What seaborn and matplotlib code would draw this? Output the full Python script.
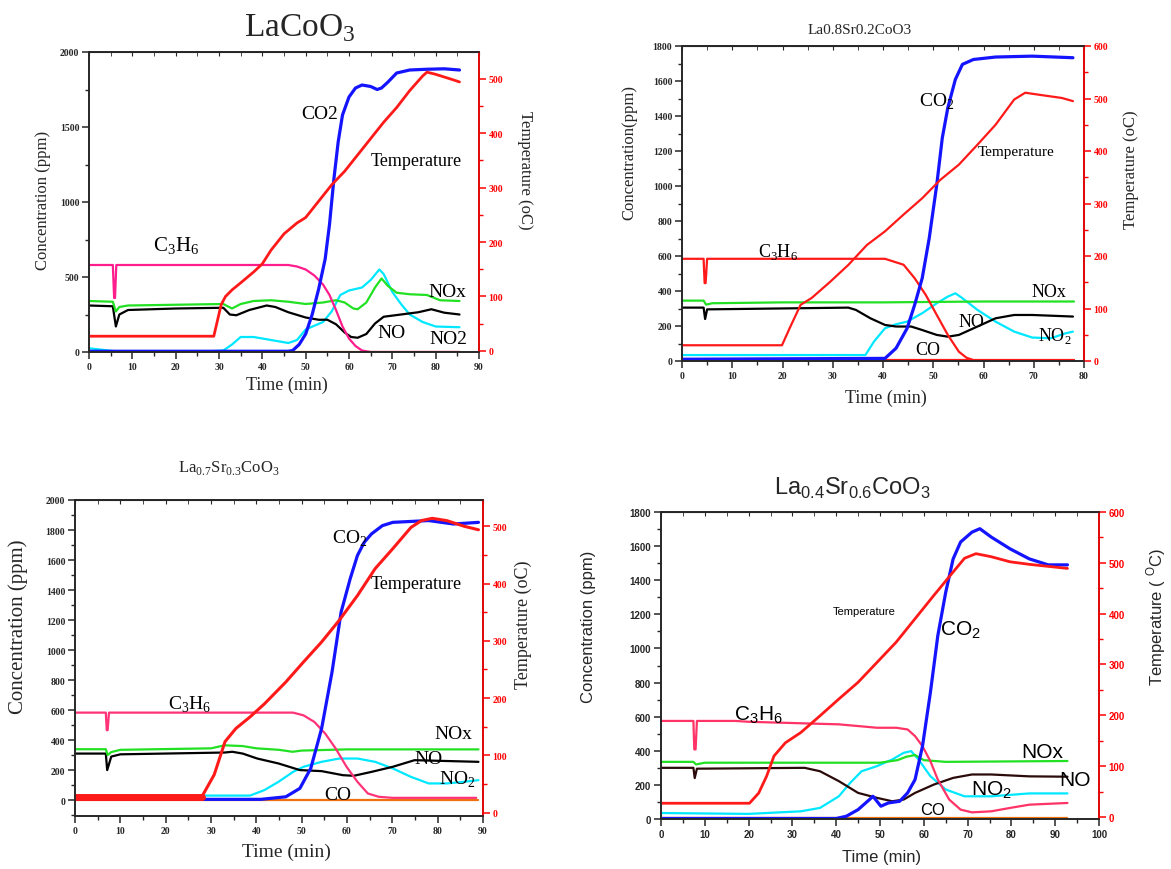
import matplotlib
matplotlib.use("Agg")
import matplotlib.pyplot as plt
from matplotlib.ticker import MultipleLocator
import seaborn as sns

# ---- LaCoO3 (top left) ----
p1_c3h6_t = [0, 5.5, 5.8, 6.0, 6.3, 46, 48, 50, 52, 54, 55.5, 57, 58.5, 60, 61.5, 63, 65, 85.5]
p1_c3h6 = [580, 580, 360, 360, 580, 580, 570, 550, 510, 450, 380, 280, 170, 90, 40, 10, 0, 0]
p1_temp_t = [0, 28.8, 30.5, 31.5, 33, 35, 38, 40, 42, 45, 48, 50, 53, 56, 59, 62, 65, 68, 71, 74, 77, 78, 80, 82, 84, 85.5]
p1_temp = [27, 27, 85, 100, 112, 125, 145, 160, 185, 215, 235, 245, 275, 305, 330, 360, 390, 420, 447, 478, 505, 512, 508, 503, 498, 494]
p1_co2_t = [0, 46, 47, 48.5, 50, 51.5, 53, 54.5, 55.5, 56.5, 57.5, 58.5, 60, 61.5, 63, 65, 66.5, 67.5, 69, 71, 74, 78, 82, 85.5]
p1_co2 = [5, 5, 10, 50, 120, 250, 420, 620, 850, 1150, 1400, 1580, 1700, 1760, 1780, 1770, 1750, 1760, 1800, 1860, 1880, 1885, 1888, 1880]
p1_nox_t = [0, 5.5, 6.2, 7, 9, 20, 31, 33, 35, 38, 42, 46, 50, 54, 57, 59, 61, 62, 64, 66, 67.5, 69, 71, 74, 78, 81, 85.5]
p1_nox = [340, 335, 270, 300, 310, 315, 320, 290, 320, 340, 345, 335, 320, 330, 345, 330, 290, 285, 330, 430, 490, 440, 395, 385, 380, 345, 340]
p1_no_t = [0, 5.5, 6.2, 7, 9, 20, 31, 32.5, 34, 37, 41, 43, 46, 50, 53, 55, 57, 59, 60.5, 62, 64, 66, 68, 72, 76, 79, 82, 85.5]
p1_no = [310, 305, 170, 250, 280, 290, 295, 250, 245, 280, 310, 300, 265, 230, 215, 215, 185, 130, 100, 95, 120, 190, 235, 250, 265, 285, 262, 250]
p1_no2_t = [0, 3, 6, 28, 31, 33, 35, 38, 42, 46, 48, 50, 52, 54, 56, 58, 60, 63, 65, 67, 68, 70, 72, 74, 77, 80, 85.5]
p1_no2 = [25, 15, 5, 5, 10, 50, 100, 100, 80, 60, 80, 150, 175, 200, 270, 380, 410, 430, 480, 550, 520, 400, 320, 250, 200, 170, 165]
p1_co_t = [0, 85.5]
p1_co = [3, 3]

# ---- La0.8Sr0.2CoO3 (top right) ----
p2_c3h6_t = [0, 4.3, 4.5, 4.7, 5.0, 40.4, 44.1, 46.3, 48.5, 50.7, 52.9, 55.1, 56.6, 58, 78]
p2_c3h6 = [584, 584, 445, 445, 584, 584, 550, 473, 378, 263, 149, 53, 19, 5, 5]
p2_temp_t = [0, 19.9, 21.4, 23.6, 25.8, 29.5, 33.1, 36.8, 40.4, 44.1, 47.8, 51.4, 55.1, 58.8, 62.4, 66.1, 68.3, 71.9, 75.6, 77.8]
p2_temp = [30, 30, 62, 107, 120, 151, 183, 221, 247, 279, 310, 345, 374, 412, 450, 498, 511, 506, 501, 495]
p2_co2_t = [0, 40.4, 42.6, 44.8, 46.3, 47.8, 49.2, 50.7, 51.8, 52.9, 54.4, 55.8, 58, 62.4, 69.7, 77.8]
p2_co2 = [10, 15, 73, 187, 321, 473, 702, 1008, 1275, 1447, 1609, 1695, 1723, 1737, 1742, 1733]
p2_nox_t = [0, 4.3, 4.8, 6, 20, 40, 60, 78]
p2_nox = [345, 345, 322, 330, 335, 335, 340, 340]
p2_no_t = [0, 4.3, 4.6, 5.0, 33.1, 34.6, 37.5, 40.4, 42.6, 45.6, 47.8, 50.7, 52.9, 55.1, 58.8, 62.4, 66.1, 69.7, 77.8]
p2_no = [305, 305, 240, 295, 305, 292, 244, 206, 197, 197, 177, 149, 139, 149, 197, 244, 263, 263, 254]
p2_no2_t = [0, 36.5, 38.2, 40.4, 42.6, 44.8, 47.8, 50.7, 52.9, 54.4, 55.8, 58.8, 62.4, 66.1, 69.7, 73.4, 76.3, 77.8]
p2_no2 = [34, 34, 111, 187, 210, 225, 273, 330, 368, 387, 359, 292, 225, 168, 134, 130, 158, 168]
p2_co_t = [0, 78]
p2_co = [4, 4]

# ---- La0.7Sr0.3CoO3 (bottom left) ----
p3_c3h6_t = [0, 6.8, 7.0, 7.2, 7.5, 48.1, 50.4, 52.8, 55.2, 57.5, 59.9, 62.3, 64.6, 67, 70, 88.5]
p3_c3h6 = [583, 583, 466, 466, 583, 583, 565, 521, 443, 344, 222, 122, 44, 22, 15, 15]
p3_temp_t = [0, 28, 30.7, 33.1, 35.5, 38.6, 41.8, 46.5, 50.4, 54.4, 58.3, 62.3, 66.2, 70.1, 74.1, 76.4, 78.8, 82, 85.9, 89]
p3_temp = [28, 28, 66, 124, 147, 167, 190, 228, 263, 298, 336, 379, 426, 461, 498, 510, 514, 510, 500, 494]
p3_co2_t = [0, 41, 46.5, 49.6, 52, 54.4, 56.7, 58.7, 60.7, 62.3, 63.8, 65.4, 67.8, 70.1, 78, 83.5, 89]
p3_co2 = [5, 5, 22, 78, 211, 477, 854, 1253, 1475, 1630, 1718, 1774, 1829, 1851, 1863, 1840, 1851]
p3_nox_t = [0, 6.8, 7.2, 8, 10, 30, 33, 37, 40, 45, 48, 50, 60, 89]
p3_nox = [339, 339, 300, 320, 335, 345, 365, 360, 345, 335, 322, 330, 338, 338]
p3_no_t = [0, 6.8, 7.1, 8, 10, 33, 34.7, 37, 40.2, 44.9, 49.6, 54.4, 59.1, 61.5, 65.4, 70.1, 74.9, 89]
p3_no = [310, 310, 200, 290, 305, 317, 322, 310, 277, 244, 200, 193, 166, 162, 188, 222, 266, 255]
p3_no2_t = [0, 27.6, 38.6, 41.8, 44.9, 48.1, 50.4, 54.4, 58.3, 62.3, 66.2, 70.1, 74.1, 78, 82, 85.9, 89]
p3_no2 = [30, 30, 30, 67, 122, 188, 222, 255, 277, 277, 255, 211, 155, 111, 111, 122, 133]
p3_co_t = [0, 89]
p3_co = [3, 3]

# ---- La0.4Sr0.6CoO3 (bottom right) ----
p4_c3h6_t = [0, 7.4, 7.6, 7.9, 8.2, 17, 20, 40.6, 45, 49.3, 53.7, 56.3, 58, 59.7, 61.5, 63.2, 65.8, 68.4, 71, 75.4, 79.7, 84.1, 92.8]
p4_c3h6 = [575, 575, 408, 408, 575, 575, 570, 555, 545, 535, 535, 525, 486, 427, 339, 231, 114, 55, 39, 45, 65, 84, 94]
p4_temp_t = [0, 20.2, 22.3, 24.1, 25.8, 28.4, 31.9, 36.3, 40.6, 45, 49.3, 53.7, 58, 62.3, 66.7, 69.3, 71.9, 75.4, 79.7, 84.1, 92.8]
p4_temp = [27, 27, 47, 80, 120, 146, 166, 199, 232, 265, 304, 344, 390, 436, 482, 509, 518, 512, 502, 497, 489]
p4_co2_t = [0, 40, 42.3, 45, 47.6, 48.4, 50.2, 51.9, 54.5, 56.3, 58, 59.7, 61.5, 63.2, 65, 66.7, 68.4, 71, 72.8, 75.4, 79.7, 84.1, 88.4, 92.8]
p4_co2 = [3, 3, 16, 55, 114, 133, 75, 94, 104, 153, 231, 427, 741, 1075, 1329, 1525, 1624, 1682, 1702, 1653, 1584, 1525, 1490, 1490]
p4_nox_t = [0, 7.4, 8, 10, 50, 54, 56, 58, 60, 65, 92.8]
p4_nox = [335, 335, 320, 330, 330, 345, 365, 375, 345, 335, 340]
p4_no_t = [0, 7.4, 7.7, 8.2, 32.8, 36.3, 40.6, 45, 49.3, 52.8, 55.4, 58, 62.3, 66.7, 71, 75.4, 84.1, 92.8]
p4_no = [300, 300, 240, 295, 300, 280, 222, 153, 124, 104, 114, 153, 202, 241, 261, 261, 250, 248]
p4_no2_t = [0, 20, 31.9, 36.3, 40.6, 43.2, 45.8, 49.3, 52.8, 55.4, 57.1, 58.8, 61.5, 65, 69.3, 75.4, 84.1, 92.8]
p4_no2 = [35, 30, 45, 65, 133, 212, 280, 310, 349, 388, 398, 349, 251, 173, 133, 133, 150, 150]
p4_co_t = [0, 92.8]
p4_co = [8, 8]

BLUE, RED, PINK = "#1414ff", "#ff1a1a", "#ff1c8c"
GREEN, CYAN, ORANGE = "#22e022", "#00e8ff", "#f07010"

sns.set_style("ticks")
SERIF = ["Liberation Serif", "DejaVu Serif"]
SANS = ["Liberation Sans", "DejaVu Sans"]
plt.rcParams["font.family"] = SERIF

W, H = 1171, 870
fig = plt.figure(figsize=(W / 100, H / 100), dpi=100)


def box(l, r, t, b):
    return [l / W, 1 - b / H, (r - l) / W, (b - t) / H]


def px(x, y):
    return x / W, 1 - y / H


def line(ax, t, y, color, lw=1.6):
    sns.lineplot(x=t, y=y, ax=ax, color=color, lw=lw, estimator=None, sort=False)


def panel(rect, xmax, xstep, ylim, ystep, tlim, font):
    ax = fig.add_axes(box(*rect))
    tw = ax.twinx()
    ax.set_xlim(0, xmax)
    ax.set_ylim(*ylim)
    tw.set_ylim(*tlim)
    ax.xaxis.set_major_locator(MultipleLocator(xstep))
    ax.xaxis.set_minor_locator(MultipleLocator(xstep / 2))
    ax.yaxis.set_major_locator(MultipleLocator(ystep))
    ax.yaxis.set_minor_locator(MultipleLocator(ystep / 2))
    tw.yaxis.set_major_locator(MultipleLocator(100))
    tw.yaxis.set_minor_locator(MultipleLocator(50))
    for a in (ax, tw):
        a.set_xlabel("")
        a.set_ylabel("")
        for s in a.spines.values():
            s.set_linewidth(1.2)
    ax.tick_params(which="major", length=5, width=1.1, direction="out", labelsize=7, pad=2)
    ax.tick_params(which="minor", length=3, width=1)
    tw.tick_params(which="major", length=5, width=1.1, direction="out", labelsize=7,
                   colors="red", pad=2)
    tw.tick_params(which="minor", length=3, width=1, colors="red")
    tw.spines["right"].set_color("red")
    top = ax.secondary_xaxis("top")
    top.xaxis.set_major_locator(MultipleLocator(xstep))
    top.xaxis.set_minor_locator(MultipleLocator(xstep / 2))
    top.tick_params(which="both", direction="in", labeltop=False, length=3)
    for lab in ax.get_xticklabels() + ax.get_yticklabels() + tw.get_yticklabels():
        lab.set_fontweight("bold")
        lab.set_family(font)
    return ax, tw


def note(ax, x, y, s, size, font=SERIF):
    ax.text(x, y, s, fontsize=size, family=font, ha="center", va="center", color="black")


# panel 1
ax, tw = panel((89, 479, 53, 353), 90, 10, (0, 2000), 500, (-2, 549), SERIF)
line(ax, p1_co_t, p1_co, ORANGE)
line(ax, p1_no2_t, p1_no2, CYAN)
line(ax, p1_no_t, p1_no, "black")
line(ax, p1_nox_t, p1_nox, GREEN)
line(ax, p1_c3h6_t, p1_c3h6, PINK)
line(ax, p1_co2_t, p1_co2, BLUE, 2.3)
line(tw, p1_temp_t, p1_temp, RED, 2)
note(ax, 53.3, 1590, "CO2", 14)
note(ax, 75.6, 1278, "Temperature", 13)
note(ax, 20, 710, "C$_{\\mathregular{3}}$H$_{\\mathregular{6}}$", 15)
note(ax, 82.6, 405, "NOx", 14)
note(ax, 69.8, 133, "NO", 14)
note(ax, 83, 89, "NO2", 14)
fig.text(*px(300, 28), "LaCoO$_{\\mathregular{3}}$", fontsize=24, ha="center", va="center", family=SERIF)
fig.text(*px(43, 200), "Concentration (ppm)", fontsize=12, rotation=90, ha="center", va="center")
fig.text(*px(525, 170), "Temperature (oC)", fontsize=12, rotation=-90, ha="center", va="center")
fig.text(*px(287, 385), "Time (min)", fontsize=13, ha="center", va="center")

# panel 2
ax, tw = panel((682, 1084, 47, 362), 80, 10, (0, 1800), 200, (0, 600), SERIF)
line(ax, p2_co_t, p2_co, RED)
line(ax, p2_no2_t, p2_no2, CYAN)
line(ax, p2_no_t, p2_no, "black")
line(ax, p2_nox_t, p2_nox, GREEN)
line(ax, p2_c3h6_t, p2_c3h6, RED)
line(ax, p2_co2_t, p2_co2, BLUE, 2.3)
line(tw, p2_temp_t, p2_temp, RED, 1.6)
note(ax, 50.7, 1485, "CO$_{\\mathregular{2}}$", 14)
note(ax, 66.4, 1198, "Temperature", 11)
note(ax, 19.2, 626, "C$_{\\mathregular{3}}$H$_{\\mathregular{6}}$", 13)
note(ax, 73, 397, "NOx", 13)
note(ax, 57.7, 225, "NO", 13)
note(ax, 74.1, 149, "NO$_{\\mathregular{2}}$", 13)
note(ax, 48.9, 63, "CO", 13)
fig.text(*px(860, 30), "La0.8Sr0.2CoO3", fontsize=11, ha="center", va="center")
fig.text(*px(629, 152), "Concentration(ppm)", fontsize=12, rotation=90, ha="center", va="center")
fig.text(*px(1131, 170), "Temperature (oC)", fontsize=12, rotation=90, ha="center", va="center")
fig.text(*px(886, 398), "Time (min)", fontsize=13, ha="center", va="center")

# panel 3
ax, tw = panel((75, 483, 501, 817), 90, 10, (-106, 2000), 200, (-6, 546), SERIF)
line(ax, p3_co_t, p3_co, ORANGE)
line(ax, p3_no2_t, p3_no2, CYAN)
line(ax, p3_no_t, p3_no, "black")
line(ax, p3_nox_t, p3_nox, GREEN)
line(ax, p3_c3h6_t, p3_c3h6, "#ff3377")
line(ax, p3_co2_t, p3_co2, BLUE, 2.3)
line(tw, p3_temp_t, p3_temp, RED, 2.2)
# the logged baseline before heating is a broad band
line(tw, p3_temp_t[:2], p3_temp[:2], RED, 5)
note(ax, 60.7, 1749, "CO$_{\\mathregular{2}}$", 14)
note(ax, 75.3, 1441, "Temperature", 13)
note(ax, 25.2, 643, "C$_{\\mathregular{3}}$H$_{\\mathregular{6}}$", 14)
note(ax, 83.5, 443, "NOx", 14)
note(ax, 78, 277, "NO", 14)
note(ax, 84.3, 144, "NO$_{\\mathregular{2}}$", 14)
note(ax, 57.9, 38, "CO", 14)
fig.text(*px(229, 468), "La$_{\\mathregular{0.7}}$Sr$_{\\mathregular{0.3}}$CoO$_{\\mathregular{3}}$",
         fontsize=12, ha="center", va="center")
fig.text(*px(18, 627), "Concentration (ppm)", fontsize=15, rotation=90, ha="center", va="center")
fig.text(*px(523, 625), "Temperature (oC)", fontsize=13, rotation=90, ha="center", va="center")
fig.text(*px(286, 852), "Time (min)", fontsize=14, ha="center", va="center")

# panel 4
ax, tw = panel((661, 1099, 513, 820), 100, 10, (0, 1800), 200, (-4, 600), SANS)
line(ax, p4_co_t, p4_co, ORANGE)
line(ax, p4_no2_t, p4_no2, CYAN)
line(ax, p4_no_t, p4_no, "#2b0a0a")
line(ax, p4_nox_t, p4_nox, GREEN)
line(ax, p4_c3h6_t, p4_c3h6, "#ff3366")
line(ax, p4_co2_t, p4_co2, BLUE, 2.3)
line(tw, p4_temp_t, p4_temp, RED, 2)
note(ax, 46.3, 1222, "Temperature", 8, SANS)
note(ax, 68.4, 1114, "CO$_{\\mathregular{2}}$", 15, SANS)
note(ax, 22.3, 614, "C$_{\\mathregular{3}}$H$_{\\mathregular{6}}$", 15, SANS)
note(ax, 87.1, 398, "NOx", 15, SANS)
note(ax, 94.5, 231, "NO", 15, SANS)
note(ax, 75.4, 173, "NO$_{\\mathregular{2}}$", 15, SANS)
note(ax, 61.9, 55, "CO", 12, SANS)
fig.text(*px(852, 488), "La$_{\\mathregular{0.4}}$Sr$_{\\mathregular{0.6}}$CoO$_{\\mathregular{3}}$",
         fontsize=17, ha="center", va="center", family=SANS)
fig.text(*px(589, 627), "Concentration (ppm)", fontsize=12, rotation=90, ha="center", va="center", family=SANS)
fig.text(*px(1156, 617), "Temperature ( $^{\\mathregular{O}}$C)", fontsize=12, rotation=90,
         ha="center", va="center", family=SANS)
fig.text(*px(882, 858), "Time (min)", fontsize=12, ha="center", va="center", family=SANS)

fig.savefig("out.png", dpi=100)
